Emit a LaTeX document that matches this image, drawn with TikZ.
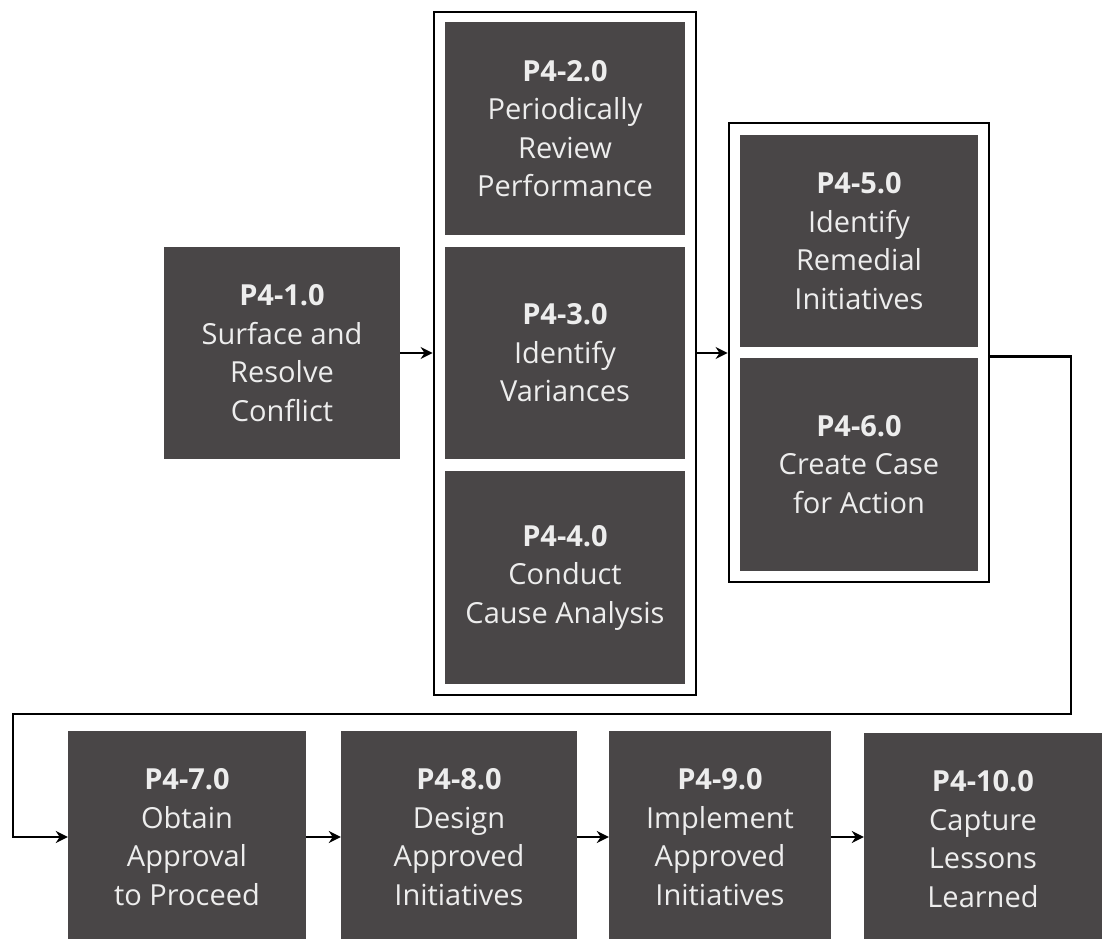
\documentclass[tikz,border=0pt]{standalone}
\usepackage{fontspec}
\setmainfont{Open Sans}
\usetikzlibrary{arrows.meta}
\definecolor{boxfill}{HTML}{494647}
\definecolor{boxtext}{HTML}{EDEDED}
\tikzset{
  procbox/.style={fill=boxfill, draw=none, text=boxtext, align=center,
    inner sep=0pt, font=\fontsize{29}{38.5}\selectfont},
  groupframe/.style={draw=black, line width=2.8pt, fill=white, inner sep=0pt},
  arr/.style={draw=black, line width=2.8pt, -{Stealth[length=12pt,width=12pt]}},
}
\newcommand{\pid}[1]{\textbf{#1}}
\begin{document}
\begin{tikzpicture}[x=1pt,y=-1pt]
\useasboundingbox (0,0) rectangle (1117,939);
\fill[white] (0,0) rectangle (1117,939);
\clip (0,0) rectangle (1117,939);
% group frames
\node[groupframe, minimum width=262pt, minimum height=683pt] (g1) at (565,353.5) {};
\node[groupframe, minimum width=260pt, minimum height=459pt] (g2) at (859,352.5) {};
% top boxes
\node[procbox, minimum width=236pt, minimum height=212pt] (b1) at (282,353)
  {\pid{P4-1.0}\\Surface and\\Resolve\\Conflict};
\node[procbox, minimum width=240pt, minimum height=213pt] (b2) at (565,128.5)
  {\pid{P4-2.0}\\Periodically\\Review\\Performance};
\node[procbox, minimum width=240pt, minimum height=212pt] (b3) at (565,353)
  {\pid{P4-3.0}\\Identify\\Variances};
\node[procbox, minimum width=240pt, minimum height=213pt] (b4) at (565,577.5)
  {\pid{P4-4.0}\\Conduct\\Cause Analysis};
\node[procbox, minimum width=238pt, minimum height=212pt] (b5) at (859,241)
  {\pid{P4-5.0}\\Identify\\Remedial\\Initiatives};
\node[procbox, minimum width=238pt, minimum height=213pt] (b6) at (859,464.5)
  {\pid{P4-6.0}\\Create Case\\for Action};
% bottom boxes
\node[procbox, minimum width=238pt, minimum height=212pt] (b7) at (187,837)
  {\pid{P4-7.0}\\Obtain\\Approval\\to Proceed};
\node[procbox, minimum width=236pt, minimum height=212pt] (b8) at (459,837)
  {\pid{P4-8.0}\\Design\\Approved\\Initiatives};
\node[procbox, minimum width=222pt, minimum height=212pt] (b9) at (720,837)
  {\pid{P4-9.0}\\Implement\\Approved\\Initiatives};
\node[procbox, minimum width=238pt, minimum height=212pt] (b10) at (983,839)
  {\pid{P4-10.0}\\Capture\\Lessons\\Learned};
% connectors
\coordinate (gs) at ([yshift=-4pt]g2.east);
\coordinate (rt) at (1071,714);
\coordinate (lt) at (13,714);
\draw[arr] (b1.east) -- (b1.east -| g1.west);
\draw[arr] (b3.east -| g1.east) -- (b3.east -| g2.west);
\draw[arr] (gs) -| (rt) -- (lt) |- (b7.west);
\draw[arr] (b7.east) -- (b8.west);
\draw[arr] (b8.east) -- (b9.west);
\draw[arr] (b9.east) -- (b9.east -| b10.west);
\end{tikzpicture}
\end{document}
